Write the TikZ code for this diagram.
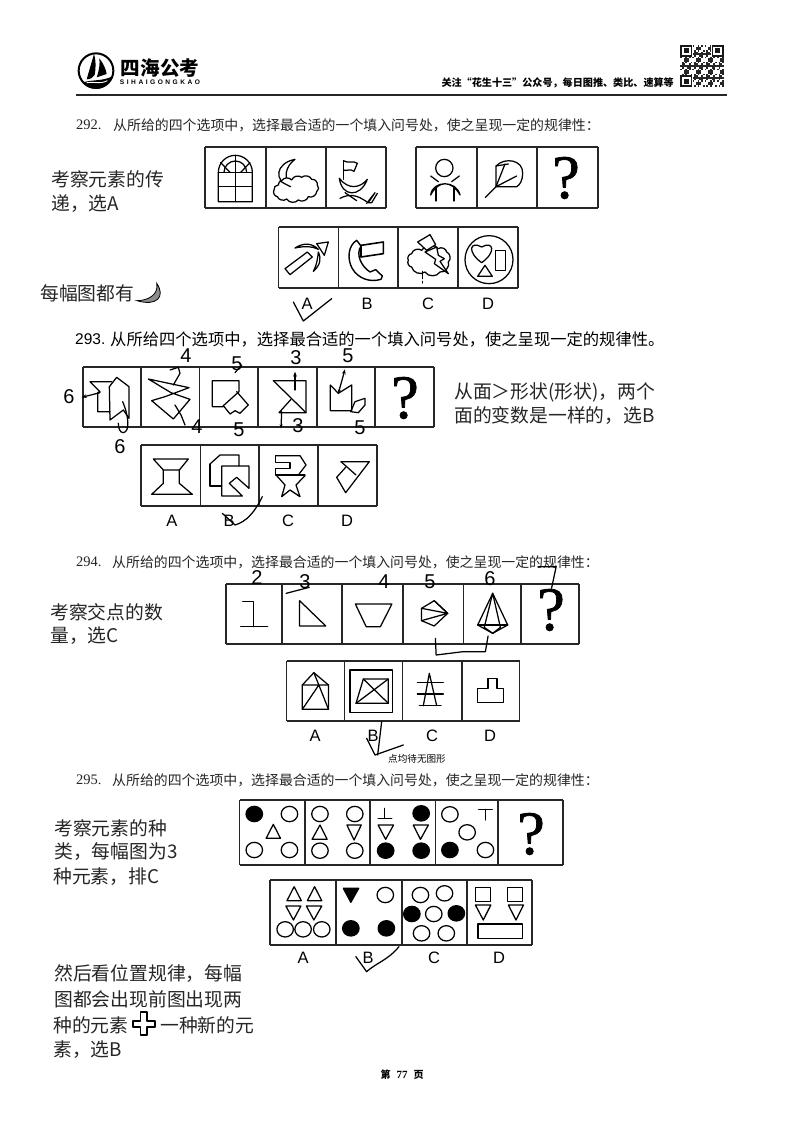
\documentclass[tikz,border=0pt]{standalone}
\usepackage{fontspec}
\usetikzlibrary{arrows.meta}
\setmainfont{Noto Sans CJK SC}
\newfontfamily\lat{Liberation Sans}
\newfontfamily\ser{Liberation Serif}
\newfontfamily\qf{Liberation Serif}[RawFeature={embolden=1.2}]
\newfontfamily\latw{Liberation Sans}[LetterSpace=38]
\newcommand{\fs}[1]{\fontsize{#1}{#1}\selectfont}
\tikzset{
  zoomed/.style n args={3}{shift={(#1,#2)},x=#3pt,y=-0.33333pt},
  fig/.style={line width=1.25pt,line join=round,line cap=round},
  hand/.style={line width=1.25pt,line join=round,line cap=round},
  frame/.style={line width=1.5pt,draw=black!85},
  printed/.style={anchor=west,inner sep=0pt,font=\fs{13.9},text=black!85},
  num/.style={anchor=west,inner sep=0pt,font=\ser\fs{14.5},text=black!85},
  handtext/.style={anchor=west,inner sep=0pt,font=\fs{18.8},text=black!85},
  optlabel/.style={inner sep=0pt,font=\lat\fs{16.5}},
  digit/.style={inner sep=0pt,font=\lat\fs{20}},
  qmark/.style={inner sep=0pt,font=\qf\fs{62}},
}
\newcommand{\cells}[3]{%
  \foreach \xx [count=\ii] in {#3}{%
    \ifnum\ii=1\xdef\xfirst{\xx}\fi
    \xdef\xlast{\xx}%
    \draw[frame] (\xx,#1) -- (\xx,#2);}%
  \draw[frame] (\xfirst,#1) -- (\xlast,#1);
  \draw[frame] (\xfirst,#2) -- (\xlast,#2);}
\begin{document}
\begin{tikzpicture}[x=1pt,y=-1pt]
\useasboundingbox (0,0) rectangle (800,1131);
\fill[white] (0,0) rectangle (800,1131);

%% header
\begin{scope}[zoomed={70}{40}{0.33333}]
  \draw[line width=2pt] (78,92) circle [radius=52];
  \fill (72,42) -- (50,118) .. controls (62,118) and (70,112) .. (74,105) .. controls (78,85) and (78,60) .. (72,42) -- cycle;
  \fill (88,55) .. controls (100,70) and (108,88) .. (110,102) -- (80,112) .. controls (88,90) and (90,70) .. (88,55) -- cycle;
  \fill (38,128) .. controls (60,118) and (100,125) .. (128,108) .. controls (122,130) and (100,148) .. (78,146) .. controls (60,146) and (48,140) .. (38,128) -- cycle;
  \draw[white,line width=0.9pt] (50,128) .. controls (70,124) and (90,134) .. (112,122);
\end{scope}
\node[inner sep=0pt,font=\bfseries\fs{19.6}] (logotext) at (160,68) {四海公考};
\node[inner sep=0pt,font=\latw\bfseries\fs{6.6}] (logolatin) at (160,82) {SIHAIGONGKAO};
\node[anchor=east,inner sep=0pt,font=\bfseries\fs{10.1}] (slogan) at (674,83) {关注“花生十三”公众号，每日图推、类比、速算等};
\draw[line width=1.1pt,black!85] (76,95) -- (727,95);
% QR code
\begin{scope}[shift={(680,45)},x=1.76pt,y=-1.68pt]
  \foreach \i in {0,...,24}{\foreach \j in {0,...,24}{
    \pgfmathtruncatemacro{\h}{mod(\i*\i*7+\j*\j*11+\i*\j*5+\i*3+\j,7)}
    \ifnum\h<3 \fill[black!85] (\i,\j) rectangle ++(1,1);\fi
  }}
  \foreach \cx/\cy in {0/0,18/0,0/18}{
    \fill[white] (\cx-0.3,\cy-0.3) rectangle ++(7.6,7.6);
    \fill[black!90] (\cx,\cy) rectangle ++(7,7);
    \fill[white] (\cx+1,\cy+1) rectangle ++(5,5);
    \fill[black!90] (\cx+2,\cy+2) rectangle ++(3,3);
  }
\end{scope}

%% 292
\node[num] (n292) at (76,125) {292.};
\node[printed] (t292) at (113,125) {从所给的四个选项中，选择最合适的一个填入问号处，使之呈现一定的规律性：};
\cells{147}{208}{205,266,326,386}
\cells{147}{208}{416,477,537,598}
\cells{227}{288}{278.5,338.5,398,458,518}
\node[handtext] (h1) at (51,179) {考察元素的传};
\node[handtext] (h2) at (51,204) {递，选A};
\node[handtext] (h3) at (40,293) {每幅图都有};
\begin{scope}[zoomed={30}{30}{0.4608}]
  \filldraw[fill=black!45,line width=0.8pt] (275,760) .. controls (295,800) and (275,830) .. (232,812) .. controls (255,812) and (280,795) .. (275,760) -- cycle;
\end{scope}
\begin{scope}[zoomed={200}{140}{0.33333},fig]
  % window
  \draw (55,185) -- (55,97) arc[start angle=180,end angle=360,radius=51] -- (157,185) -- cycle;
  \draw (55,97) -- (157,97) (55,140) -- (157,140) (106,46) -- (106,185);
  \draw (72,97) arc[start angle=180,end angle=360,radius=34];
  \draw (62,68) -- (90,97) (150,68) -- (122,97);
  % moon and cloud
  \draw (285,58) .. controls (225,70) and (220,125) .. (272,140) .. controls (250,115) and (255,80) .. (285,58);
  \draw[fill=white] (245,122) to[bend left=55] (275,120) to[bend left=55] (305,112) to[bend left=55] (335,118) to[bend left=55] (352,135) to[bend left=55] (350,155) to[bend left=55] (325,170) to[bend left=55] (295,180) to[bend left=55] (260,177) to[bend left=55] (232,170) to[bend left=55] (222,150) to[bend left=55] (235,135) to[bend left=40] (245,122);
  \draw (240,122) .. controls (250,130) and (262,135) .. (272,140);
  % flag boat
  \draw (430,62) -- (430,118);
  \draw (430,62) .. controls (445,72) and (460,60) .. (472,70) -- (462,94) .. controls (450,84) and (440,95) .. (430,90);
  \draw (418,115) .. controls (425,170) and (480,175) .. (502,118) .. controls (480,145) and (445,150) .. (418,115);
  \draw (420,175) .. controls (450,160) and (470,165) .. (500,185) (435,158) -- (470,182);
  \draw (500,190) -- (525,158) (525,158) -- (505,188) -- (515,188) -- (532,160);
\end{scope}
\begin{scope}[zoomed={410}{140}{0.33333},fig]
  \draw (103,84) circle[radius=26];
  \draw (62,165) .. controls (68,120) and (140,120) .. (150,165) .. controls (125,120) and (85,120) .. (62,165);
  \draw (62,108) -- (85,125) (148,108) -- (125,125);
  \draw (78,145) -- (78,183) (132,145) -- (132,183);
  \draw (258,78) .. controls (285,50) and (340,60) .. (338,100) .. controls (338,120) and (330,135) .. (320,140);
  \draw (258,78) -- (258,140) -- (320,140) (258,78) -- (295,72);
  \draw (258,140) -- (285,72) (258,140) -- (320,108) (226,172) -- (258,140);
\end{scope}
\node[qmark] (q292) at (566,178) {?};
\begin{scope}[zoomed={275}{222}{0.33333},fig]
  % arrow
  \draw (30,140) -- (45,158) -- (112,105) -- (97,90) -- cycle;
  \draw (125,65) -- (160,60) -- (148,100) -- cycle;
  \draw (60,78) .. controls (85,62) and (110,62) .. (130,82) .. controls (110,72) and (90,72) .. (60,78);
  \draw (115,148) .. controls (135,130) and (140,112) .. (130,90) .. controls (128,110) and (125,130) .. (115,148);
  % phone
  \draw[line width=1.4pt] (245,55) .. controls (220,70) and (215,110) .. (232,140) .. controls (250,170) and (285,182) .. (318,172) -- (322,162) -- (302,143) -- (285,150) .. controls (262,135) and (240,100) .. (258,72) -- cycle;
  \draw[line width=1.6pt] (258,70) -- (325,60) -- (325,95) -- (258,105) -- cycle;
  % cloud bolt
  \draw (410,95) to[bend left=60] (440,85) to[bend left=60] (490,80) to[bend left=60] (515,90) to[bend left=60] (520,120) to[bend left=60] (495,150) to[bend left=60] (450,150) to[bend left=60] (410,135) to[bend left=60] (400,115) to[bend left=60] (410,95);
  \draw[fill=white] (428,60) -- (465,38) -- (482,68) -- (455,85) -- cycle;
  \draw[fill=white] (450,90) -- (485,75) -- (490,100) -- (508,110) -- (495,118) -- (520,155) -- (478,125) -- (482,112) -- cycle;
  \draw (442,148) -- (442,170) (442,178) -- (442,183);
  % heart circle
  \draw (642,113) circle[radius=72];
  \draw (620,122) .. controls (575,90) and (585,55) .. (620,75) .. controls (655,55) and (665,90) .. (620,122);
  \draw (608,163) -- (630,130) -- (652,163) -- cycle;
  \draw (662,85) rectangle (692,145);
  % check and labels
  \draw[hand] (55,240) -- (85,297) -- (170,230);
\end{scope}
\node[optlabel] (a292) at (307,304) {A};
\node[optlabel] (b292) at (367,304) {B};
\node[optlabel] (c292) at (428,304) {C};
\node[optlabel] (d292) at (488,304) {D};

%% 293
\node[inner sep=0pt,anchor=west,font=\lat\fs{15.5}] (n293) at (75,339) {293.};
\node[inner sep=0pt,anchor=west,font=\fs{16.3}] (t293) at (110,339) {从所给四个选项中，选择最合适的一个填入问号处，使之呈现一定的规律性。};
\cells{367}{427}{83,141,199.5,258,317,375,434}
\cells{445}{506}{141,200.7,259,318,377}
\node[handtext] (h4) at (454,392) {从面＞形状(形状)，两个};
\node[handtext] (h5) at (454,416) {面的变数是一样的，选B};
\begin{scope}[zoomed={55}{340}{0.33333},fig]
  \draw (105,125) -- (170,125) (105,125) -- (135,155) -- (128,158) -- (128,215) -- (165,215);
  \draw (163,140) -- (185,112) -- (222,140) -- (222,235) -- (205,210) -- (165,240) -- cycle;
  \draw[hand,-{Stealth[length=5pt]}] (135,158) -- (80,172);
  \draw[hand] (203,185) .. controls (222,230) and (225,275) .. (205,278) .. controls (195,278) and (190,265) .. (190,250);
  \draw (280,117) -- (402,143) -- (330,170) -- (290,182) -- (355,237) -- (405,178) -- (348,158) -- cycle;
  \draw[hand] (345,90) -- (370,82) -- (375,100) -- (355,135);
  \draw[hand] (360,195) -- (378,225) -- (390,255);
  \draw (472,122) -- (552,122) -- (552,155) -- (505,197) -- (505,200) -- (472,200) -- cycle;
  \draw (545,155) -- (580,195) -- (555,220) -- (540,212) -- (525,222) -- (505,197);
  \draw[hand] (560,75) -- (540,98);
\end{scope}
\node[digit] (d61) at (69,397) {6};
\node[digit] (d62) at (120,447) {6};
\node[digit] (d41) at (186,356) {4};
\node[digit] (d42) at (197,427) {4};
\node[digit] (d51) at (237,364) {5};
\node[digit] (d52) at (239,430) {5};
\begin{scope}[zoomed={255}{340}{0.33333},fig]
  \draw (55,122) -- (153,122) -- (153,218) -- (72,218) -- (108,178);
  \draw (55,122) -- (153,218);
  \draw[hand,-{Stealth[length=5pt]}] (120,150) -- (120,95);
  \draw[hand,{Stealth[length=4pt]}-] (78,265) -- (80,215);
  \draw (226,135) -- (250,160) -- (290,135) -- (290,212) -- (226,212) -- cycle;
  \draw (287,215) -- (300,185) -- (330,175) -- (330,195) -- (310,218) -- cycle;
  \draw[hand,{Stealth[length=5pt]}-{Stealth[length=4pt]}] (270,88) -- (250,160);
\end{scope}
\node[digit] (d31) at (296,358) {3};
\node[digit] (d32) at (298,426) {3};
\node[digit] (d53) at (348,356) {5};
\node[digit] (d54) at (360,428) {5};
\node[qmark] (q293) at (405,398) {?};
\begin{scope}[zoomed={135}{440}{0.33333},fig]
  \draw (55,57) -- (160,57) -- (133,90) -- (85,90) -- cycle;
  \draw (85,90) -- (85,130) -- (50,163) -- (172,163) -- (133,130) -- (133,90);
  \draw (225,72) -- (255,45) -- (312,45) -- (312,78);
  \draw (225,72) -- (225,138) -- (260,138);
  \draw (260,78) -- (342,78) -- (342,145) -- (305,112) -- (283,130) -- (322,168) -- (260,168) -- cycle;
  \draw (422,47) -- (495,47) -- (513,75) -- (490,105);
  \draw (422,47) -- (422,68) -- (465,68) -- (465,85) -- (422,85) -- (422,105) -- (510,105);
  \draw (425,107) -- (450,135) -- (440,170) -- (465,150) -- (495,170) -- (483,135) -- (510,107);
  \draw (618,65) -- (703,65) -- (632,158) -- (605,112) -- (632,82);
  \draw (618,65) -- (663,105);
  \draw[hand] (382,170) .. controls (360,215) and (335,245) .. (300,255) -- (262,220);
\end{scope}
\node[optlabel] (a293) at (172,521) {A};
\node[optlabel] (b293) at (229,521) {B};
\node[optlabel] (c293) at (288,521) {C};
\node[optlabel] (d293) at (347,521) {D};

%% 294
\node[num] (n294) at (76,562) {294.};
\node[printed] (t294) at (112,562) {从所给的四个选项中，选择最合适的一个填入问号处，使之呈现一定的规律性：};
\cells{584}{644}{226,282,342,403,463.5,521,579}
\cells{661}{721}{286.5,344.6,402.7,462,519.6}
\node[handtext] (h6) at (50,612) {考察交点的数};
\node[handtext] (h7) at (50,636) {量，选C};
\begin{scope}[zoomed={40}{550}{0.38462},fig]
  \draw (527,155) -- (555,155) -- (555,230) (522,230) -- (592,230);
  \draw (675,152) -- (675,228) -- (743,228) -- cycle;
  \draw (820,162) -- (915,162) -- (885,230) -- (848,230) -- cycle;
  \draw (992,175) -- (1025,152) -- (1060,190) -- (1025,228) -- (992,212) -- cycle;
  \draw (1060,190) -- (992,175) (1060,190) -- (992,212) (1025,152) -- (1060,190);
  \draw (1177,130) -- (1138,225) -- (1177,250) -- (1216,225) -- cycle;
  \draw (1177,130) -- (1155,232) -- (1177,250) -- (1197,232) -- cycle;
  \draw (1138,225) -- (1216,225);
  \draw[hand] (1028,265) -- (1030,315) -- (1100,305) -- (1158,305) -- (1165,258);
  \draw[hand] (640,130) -- (700,112);
  \draw[hand] (1295,50) -- (1342,50) -- (1330,115);
  % options
  \draw (682,405) -- (712,368) -- (750,405) -- (750,478) -- (682,478) -- cycle;
  \draw (682,405) -- (750,405) (712,368) -- (725,405) -- (750,478) (682,478) -- (725,405);
  \draw (1165,385) -- (1188,385) -- (1188,415) -- (1205,415) -- (1205,458) -- (1138,458) -- (1138,415) -- (1165,415) -- cycle;
\end{scope}
\node[digit] (d2) at (257,578) {2};
\node[digit] (d3) at (305,582) {3};
\node[digit] (d4) at (384,582) {4};
\node[digit] (d5) at (430,582) {5};
\node[digit] (d6) at (490,579) {6};
\node[qmark] (q294) at (551,610) {?};
\begin{scope}[zoomed={340}{655}{0.33333},fig]
  \draw (30,45) rectangle (157,172);
  \draw (70,72) -- (145,72) -- (145,145) -- (48,145) -- cycle;
  \draw (70,72) -- (145,145) (48,145) -- (145,72);
  \draw (268,55) -- (250,152) (268,55) -- (290,152);
  \draw (232,82) -- (310,82) (232,117) -- (310,117) (238,152) -- (303,152);
  \draw[hand] (125,200) -- (113,300);
  \draw[hand] (80,250) -- (105,300) -- (190,270);
\end{scope}
\node[optlabel] (a294) at (315,736) {A};
\node[optlabel] (b294) at (373,736) {B};
\node[optlabel] (c294) at (432,736) {C};
\node[optlabel] (d294) at (490,736) {D};
\node[anchor=west,inner sep=0pt,font=\fs{9.6}] (small) at (388,759) {点均待无图形};

%% 295
\node[num] (n295) at (76,780) {295.};
\node[printed] (t295) at (112,780) {从所给的四个选项中，选择最合适的一个填入问号处，使之呈现一定的规律性：};
\cells{800}{865}{239.6,305,370,435.6,498,563}
\cells{880}{945}{270,336,402,467,532}
\node[handtext] (h8) at (54,828) {考察元素的种};
\node[handtext] (h9) at (54,852) {类，每幅图为3};
\node[handtext] (h10) at (53,877) {种元素，排C};
\node[handtext] (h11) at (54,974) {然后看位置规律，每幅};
\node[handtext] (h12) at (54,999) {图都会出现前图出现两};
\node[handtext] (h13) at (53,1025) {种的元素};
\node[handtext] (h14) at (160,1025) {一种新的元};
\node[handtext] (h15) at (53,1050) {素，选B};
\begin{scope}[zoomed={40}{770}{0.35894},fig]
  \foreach \p in {(695,132),(597,240),(695,240),(780,132),(877,132),(780,242),(877,242),(1142,133),(1190,187),(1241,240),(683,478),(733,478),(785,478),(962,375),(1060,375),(1127,370),(1097,432),(1063,490),(1132,490)}
    \draw \p circle[radius=23];
  \foreach \p in {(597,132),(963,242),(1062,130),(1062,242),(1142,240),(866,475),(965,475),(1036,432),(1160,430)}
    \filldraw \p circle[radius=23];
  \draw (650,163) -- (630,205) -- (670,205) -- cycle;
  \draw (780,165) -- (758,208) -- (800,208) -- cycle;
  \draw (855,165) -- (895,165) -- (875,210) -- cycle;
  \draw (960,115) -- (960,145) (942,145) -- (980,145);
  \draw (942,165) -- (985,165) -- (963,208) -- cycle;
  \draw (1040,165) -- (1082,165) -- (1060,208) -- cycle;
  \draw (1222,118) -- (1260,118) (1241,118) -- (1241,150);
  \draw (708,350) -- (688,392) -- (728,392) -- cycle;
  \draw (765,350) -- (745,392) -- (785,392) -- cycle;
  \draw (685,408) -- (727,408) -- (706,450) -- cycle;
  \draw (742,408) -- (785,408) -- (763,450) -- cycle;
  \filldraw (845,355) -- (888,355) -- (866,397) -- cycle;
  \draw (1213,352) rectangle (1256,395) (1302,352) rectangle (1345,395);
  \draw (1213,405) -- (1256,405) -- (1235,450) -- cycle;
  \draw (1305,405) -- (1347,405) -- (1326,450) -- cycle;
  \draw (1220,462) rectangle (1345,505);
  \draw[hand] (880,560) -- (910,605) .. controls (935,580) and (970,570) .. (1000,530);
  % plus
  \draw[line width=1.8pt] (280,725) -- (298,725) -- (298,752) -- (320,752) -- (320,770) -- (298,770) -- (298,795) -- (280,795) -- (280,770) -- (260,770) -- (260,752) -- (280,752) -- cycle;
\end{scope}
\node[qmark] (q295) at (531,834) {?};
\node[optlabel] (a295) at (303,958) {A};
\node[optlabel] (b295) at (368,958) {B};
\node[optlabel] (c295) at (434,958) {C};
\node[optlabel] (d295) at (499,958) {D};
\node[inner sep=0pt,font=\bfseries\fs{10}] (page) at (402,1075) {第\hspace{6pt}{\ser\fs{11}77}\hspace{6pt}页};
\end{tikzpicture}
\end{document}
